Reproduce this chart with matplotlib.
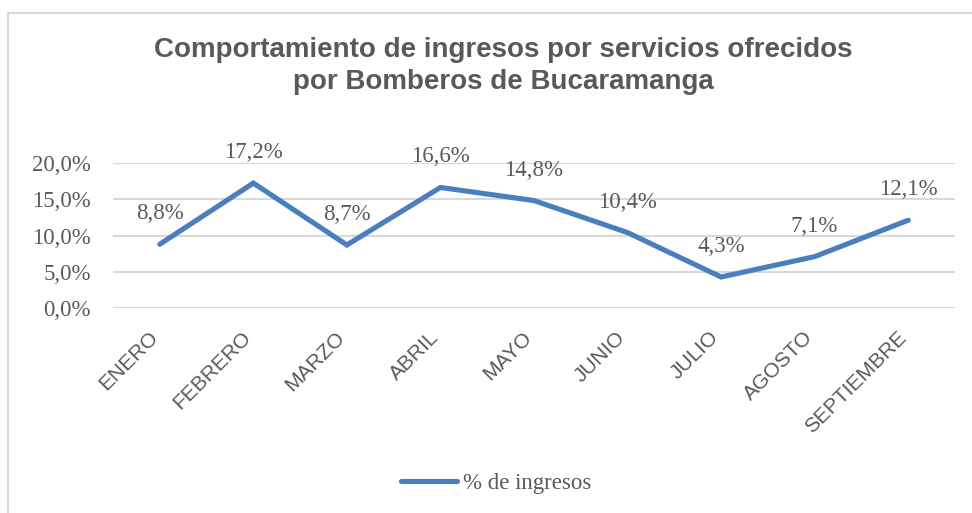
import matplotlib
matplotlib.use("Agg")
import matplotlib.pyplot as plt
from matplotlib.lines import Line2D
from matplotlib.ticker import FuncFormatter
from matplotlib.transforms import ScaledTranslation

months = ["ENERO", "FEBRERO", "MARZO", "ABRIL", "MAYO", "JUNIO", "JULIO", "AGOSTO", "SEPTIEMBRE"]
ingresos = [8.8, 17.2, 8.7, 16.6, 14.8, 10.4, 4.3, 7.1, 12.1]
yticks = [0, 5, 10, 15, 20]
title = "Comportamiento de ingresos por servicios ofrecidos\npor Bomberos de Bucaramanga"
series_name = "% de ingresos"

W, H = 972, 513
fig = plt.figure(figsize=(W / 100, H / 100), dpi=100)
gray = "#595959"
grid_c = "#D9D9D9"
line_c = "#4A7EBF"
serif = ["Liberation Serif", "DejaVu Serif"]
sans = ["Liberation Sans", "DejaVu Sans"]
fs_serif = 16.5

ax = fig.add_axes([113 / W, 1 - 308.3 / H, (955 - 113) / W, (308.3 - 162.7) / H])
x = list(range(len(months)))
ax.plot(x, ingresos, color=line_c, lw=3.7, solid_capstyle="round", solid_joinstyle="miter", label=series_name, zorder=3)
ax.set_xlim(-0.5, len(months) - 0.5)
ax.set_ylim(0, 20)
ax.set_yticks(yticks)
ax.yaxis.set_major_formatter(FuncFormatter(lambda v, p: f"{v:.1f}%".replace(".", ",")))
ax.grid(axis="y", color=grid_c, lw=1.5)
ax.set_axisbelow(True)
for s in ax.spines.values():
    s.set_visible(False)
ax.tick_params(axis="both", length=0)
ax.tick_params(axis="y", pad=16, labelcolor=gray, labelsize=fs_serif)
ax.set_xticks(x)
ax.set_xticklabels(months, rotation=45, ha="right", va="center", rotation_mode="anchor",
                   fontsize=15, color=gray, family=sans)
ax.tick_params(axis="x", pad=19)
for lab in ax.get_yticklabels():
    lab.set_family(serif)

for xi, v in zip(x, ingresos):
    ax.annotate(f"{v:.1f}%".replace(".", ","), (xi, v), xytext=(0, 22), textcoords="offset points",
                ha="center", va="center", fontsize=fs_serif, color=gray, family=serif)

fig.text(503 / W, 1 - 66 / H, title, ha="center", va="center", fontsize=20, fontweight="bold",
         color=gray, family=sans, linespacing=1.3)

leg = fig.legend(loc="center", bbox_to_anchor=(496 / W, 1 - 483 / H), frameon=False,
                 handlelength=2.45, handletextpad=0.25, prop={"family": serif, "size": fs_serif})
for t in leg.get_texts():
    t.set_color(gray)

fig.add_artist(Line2D([8 / W, 8 / W], [1 - 13 / H, 0], transform=fig.transFigure, color=grid_c, lw=1.5))
fig.add_artist(Line2D([8 / W, 1], [1 - 13 / H, 1 - 13 / H], transform=fig.transFigure, color=grid_c, lw=1.5))

fig.canvas.draw()
shift = ScaledTranslation(-5 / 100, 0, fig.dpi_scale_trans)
for lab in ax.get_xticklabels():
    lab.set_transform(lab.get_transform() + shift)

fig.savefig("out.png", dpi=100)
